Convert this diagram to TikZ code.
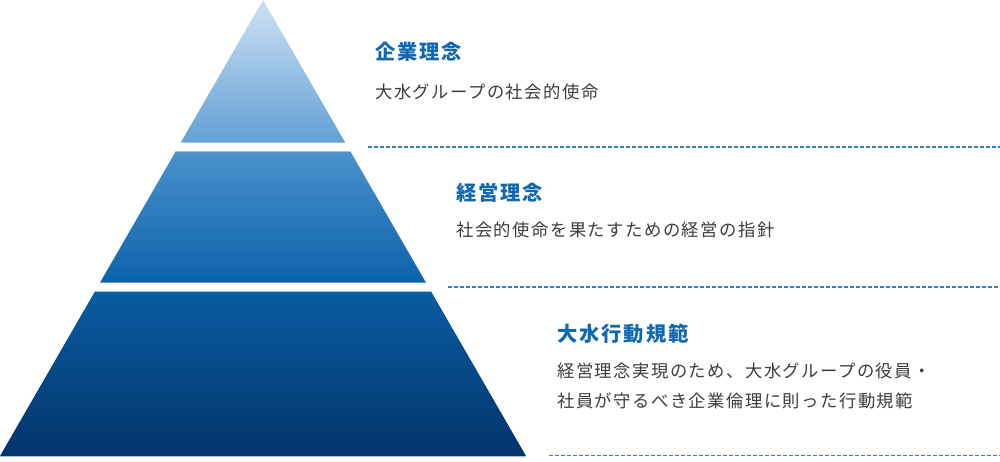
\documentclass[tikz,border=0pt]{standalone}
\usepackage{fontspec}
\newfontfamily\jp[LetterSpace=8.5]{Noto Sans CJK JP}
\newfontfamily\jphead[LetterSpace=9.5]{Noto Sans CJK JP}
\definecolor{headblue}{HTML}{0F68B2}
\definecolor{textgray}{HTML}{3C3C3C}
\definecolor{lineblue}{HTML}{2F7FC6}
\definecolor{rimblue}{HTML}{9CC4E8}
\definecolor{tierAtop}{HTML}{CFE1F4}
\definecolor{tierAbot}{HTML}{62A0D6}
\definecolor{tierBtop}{HTML}{4B92CE}
\definecolor{tierBbot}{HTML}{0B62AA}
\definecolor{tierCtop}{HTML}{0A5CA2}
\definecolor{tierCbot}{HTML}{02346A}
\tikzset{
  heading/.style={anchor=west, inner sep=0pt, text=headblue,
    font=\jphead\bfseries\fontsize{15.2}{18}\selectfont},
  caption/.style={anchor=west, inner sep=0pt, text=textgray, align=left,
    font=\jp\fontsize{13}{22.5}\selectfont},
  guide/.style={draw=lineblue, dash pattern=on 3pt off 1.5pt, line width=0.8pt},
  rim/.style={draw=rimblue, line width=0.5pt}
}

\begin{document}
\begin{tikzpicture}[x=0.75pt,y=-0.75pt]
\useasboundingbox (0,0) rectangle (1000,461);

% pyramid tiers
\shade[top color=tierAtop, bottom color=tierAbot]
    (263,0) -- (345.2,142.5) -- (180.8,142.5) -- cycle;
\shade[top color=tierBtop, bottom color=tierBbot]
    (175.9,151) -- (350.1,151) -- (425.9,282.5) -- (100.1,282.5) -- cycle;
\shade[top color=tierCtop, bottom color=tierCbot]
    (95.2,291) -- (430.8,291) -- (526,456) -- (0,456) -- cycle;
\draw[rim] (175.9,151) -- (350.1,151);
\draw[rim] (95.2,291) -- (430.8,291);
\draw[rim] (0,456.5) -- (526,456.5);

% guide lines
\coordinate (philo) at (368,147);
\coordinate (mgmt) at (448,287);
\coordinate (code) at (549,455.5);
\foreach \g in {philo,mgmt,code}
    \draw[guide] (\g) -- (\g -| 1000,0);

% labels
\node (philotitle) at (375,52) [heading] {企業理念};
\node (philotext) at (375,92) [caption] {大水グループの社会的使命};
\node (mgmttitle) at (456,193) [heading] {経営理念};
\node (mgmttext) at (456,230) [caption] {社会的使命を果たすための経営の指針};
\node (codetitle) at (557,334) [heading] {大水行動規範};
\node (codetext) at (557,386) [caption]
    {経営理念実現のため、大水グループの役員・\\社員が守るべき企業倫理に則った行動規範};
\end{tikzpicture}
\end{document}
